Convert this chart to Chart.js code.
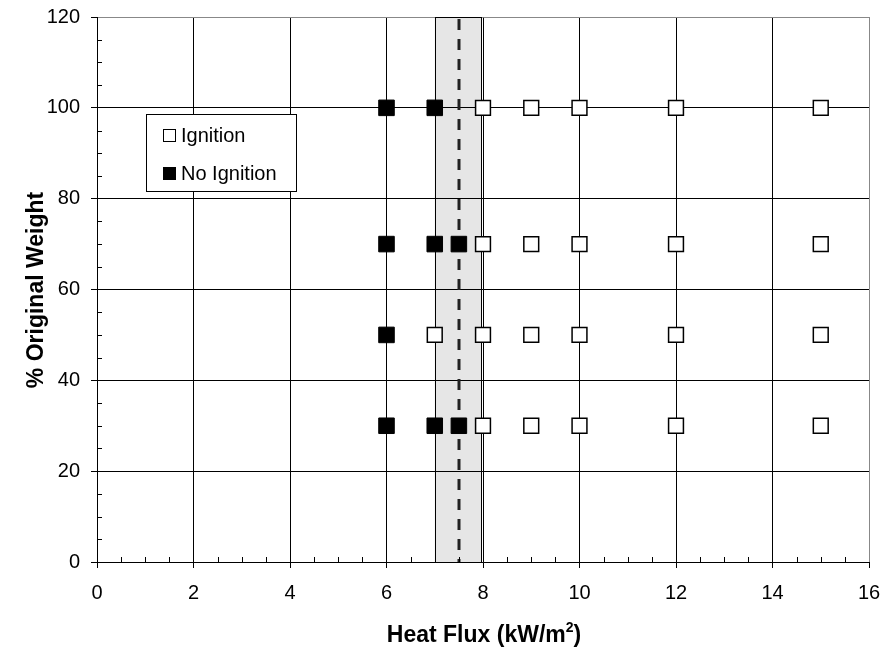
<!DOCTYPE html>
<html>
<head>
<meta charset="utf-8">
<script src="https://cdn.jsdelivr.net/npm/chart.js@4.4.1/dist/chart.umd.min.js"></script>
<style>
  html, body { margin: 0; padding: 0; background: #fff; }
</style>
</head>
<body>
<canvas id="myChart" width="882" height="648"></canvas>
<script>
    // data
    var ignitionX = [8, 9, 10, 12, 15, 8, 9, 10, 12, 15, 7, 8, 9, 10, 12, 15, 8, 9, 10, 12, 15];
    var ignitionY = [100, 100, 100, 100, 100, 70, 70, 70, 70, 70, 50, 50, 50, 50, 50, 50, 30, 30, 30, 30, 30];
    var noIgnitionX = [6, 7, 6, 7, 7.5, 6, 6, 7, 7.5];
    var noIgnitionY = [100, 100, 70, 70, 70, 50, 30, 30, 30];
    var bandX = [7, 7.96];
    var thresholdX = 7.5;
    var xTicks = [0, 2, 4, 6, 8, 10, 12, 14, 16];
    var yTicks = [0, 20, 40, 60, 80, 100, 120];
    var seriesNames = ['Ignition', 'No Ignition'];

    var FONT = '"Liberation Sans", Arial, sans-serif';

    function toPoints(xs, ys) {
        return xs.map(function (x, i) { return { x: x, y: ys[i] }; });
    }

    // shaded band, dashed line, minor ticks, legend box, axis titles
    const extras = {
        id: 'extras',
        beforeDraw(chart) {
            const c = chart.ctx, xs = chart.scales.x, ys = chart.scales.y;
            const l = xs.getPixelForValue(bandX[0]), r = xs.getPixelForValue(bandX[1]);
            const t = ys.getPixelForValue(120), b = ys.getPixelForValue(0);
            c.save();
            c.fillStyle = '#e6e6e6';
            c.fillRect(l, t, r - l, b - t);
            c.restore();
        },
        beforeDatasetsDraw(chart) {
            const c = chart.ctx, xs = chart.scales.x, ys = chart.scales.y;
            const a = chart.chartArea;
            const l = xs.getPixelForValue(bandX[0]), r = xs.getPixelForValue(bandX[1]);
            const t = ys.getPixelForValue(120), b = ys.getPixelForValue(0);
            c.save();
            c.strokeStyle = '#000';
            c.lineWidth = 1;
            c.strokeRect(Math.round(l) + 0.5, Math.round(t) + 0.5, Math.round(r - l), Math.round(b - t));
            // threshold
            const dx = Math.round(xs.getPixelForValue(thresholdX));
            c.strokeStyle = '#222';
            c.lineWidth = 3;
            c.setLineDash([11, 9]);
            c.beginPath();
            c.moveTo(dx, t + 2);
            c.lineTo(dx, b);
            c.stroke();
            c.setLineDash([]);
            // minor ticks
            c.strokeStyle = '#000';
            c.lineWidth = 1;
            c.beginPath();
            for (let v = 0.5; v < 16; v += 0.5) {
                if (v % 2 === 0) continue;
                const px = Math.round(xs.getPixelForValue(v)) + 0.5;
                c.moveTo(px, a.bottom);
                c.lineTo(px, a.bottom - 5);
            }
            for (let v = 5; v < 120; v += 5) {
                if (v % 20 === 0) continue;
                const py = Math.round(ys.getPixelForValue(v)) + 0.5;
                c.moveTo(a.left, py);
                c.lineTo(a.left + 5, py);
            }
            c.stroke();
            c.restore();
        },
        afterDatasetsDraw(chart) {
            const c = chart.ctx;
            c.save();
            // legend
            c.fillStyle = '#fff';
            c.fillRect(146, 114, 150, 77);
            c.strokeStyle = '#000';
            c.lineWidth = 1;
            c.strokeRect(146.5, 114.5, 150, 77);
            c.fillStyle = '#fff';
            c.fillRect(163.5, 129.5, 12, 12);
            c.strokeRect(163.5, 129.5, 12, 12);
            c.fillStyle = '#000';
            c.fillRect(163, 167, 13, 13);
            c.font = '20px ' + FONT;
            c.textBaseline = 'alphabetic';
            c.textAlign = 'left';
            c.fillText(seriesNames[0], 181, 142);
            c.fillText(seriesNames[1], 181, 180);
            // axis titles
            c.font = 'bold 23px ' + FONT;
            const main = 'Heat Flux (kW/m', close = ')';
            const wMain = c.measureText(main).width, wClose = c.measureText(close).width;
            c.font = 'bold 14px ' + FONT;
            const wSup = c.measureText('2').width;
            const total = wMain + wSup + wClose;
            let x0 = 484 - total / 2;
            const base = 642;
            c.font = 'bold 23px ' + FONT;
            c.fillText(main, x0, base);
            c.font = 'bold 14px ' + FONT;
            c.fillText('2', x0 + wMain, base - 10);
            c.font = 'bold 23px ' + FONT;
            c.fillText(close, x0 + wMain + wSup, base);
            c.translate(43, 290);
            c.rotate(-Math.PI / 2);
            c.textAlign = 'center';
            c.fillText('% Original Weight', 0, 0);
            c.restore();
        }
    };

    const ctx = document.getElementById('myChart').getContext('2d');
    const myChart = new Chart(ctx, {
        type: 'scatter',
        data: {
            datasets: [{
                label: seriesNames[0],
                data: toPoints(ignitionX, ignitionY),
                pointStyle: 'rect',
                pointRadius: 10.5,
                backgroundColor: '#fff',
                borderColor: '#000',
                borderWidth: 1.5
            }, {
                label: seriesNames[1],
                data: toPoints(noIgnitionX, noIgnitionY),
                pointStyle: 'rect',
                pointRadius: 11,
                backgroundColor: '#000',
                borderColor: '#000',
                borderWidth: 1
            }]
        },
        options: {
            responsive: false,
            animation: false,
            devicePixelRatio: 1,
            layout: { padding: { top: 17, right: 13, left: 0, bottom: 0 } },
            plugins: { legend: { display: false }, tooltip: { enabled: false } },
            scales: {
                x: {
                    type: 'linear', min: 0, max: 16,
                    afterFit: function (s) { s.height = 86; s.paddingLeft = 0; s.paddingRight = 0; },
                    afterBuildTicks: function (s) { s.ticks = xTicks.map(function (v) { return { value: v }; }); },
                    ticks: { color: '#000', font: { family: FONT, size: 20 }, padding: 13, maxRotation: 0 },
                    grid: {
                        color: function (c) { return c.tick && c.tick.value === 16 ? '#888' : '#000'; },
                        tickColor: '#000', tickLength: 6, lineWidth: 1
                    },
                    border: { color: '#000', width: 1 }
                },
                y: {
                    min: 0, max: 120,
                    afterFit: function (s) { s.width = 97; s.paddingTop = 0; s.paddingBottom = 0; },
                    afterBuildTicks: function (s) { s.ticks = yTicks.map(function (v) { return { value: v }; }); },
                    ticks: { color: '#000', font: { family: FONT, size: 20 }, padding: 11 },
                    grid: {
                        color: function (c) { return c.tick && c.tick.value === 120 ? '#888' : '#000'; },
                        tickColor: '#000', tickLength: 6, lineWidth: 1
                    },
                    border: { color: '#000', width: 1 }
                }
            }
        },
        plugins: [extras]
    });
</script>
</body>
</html>
